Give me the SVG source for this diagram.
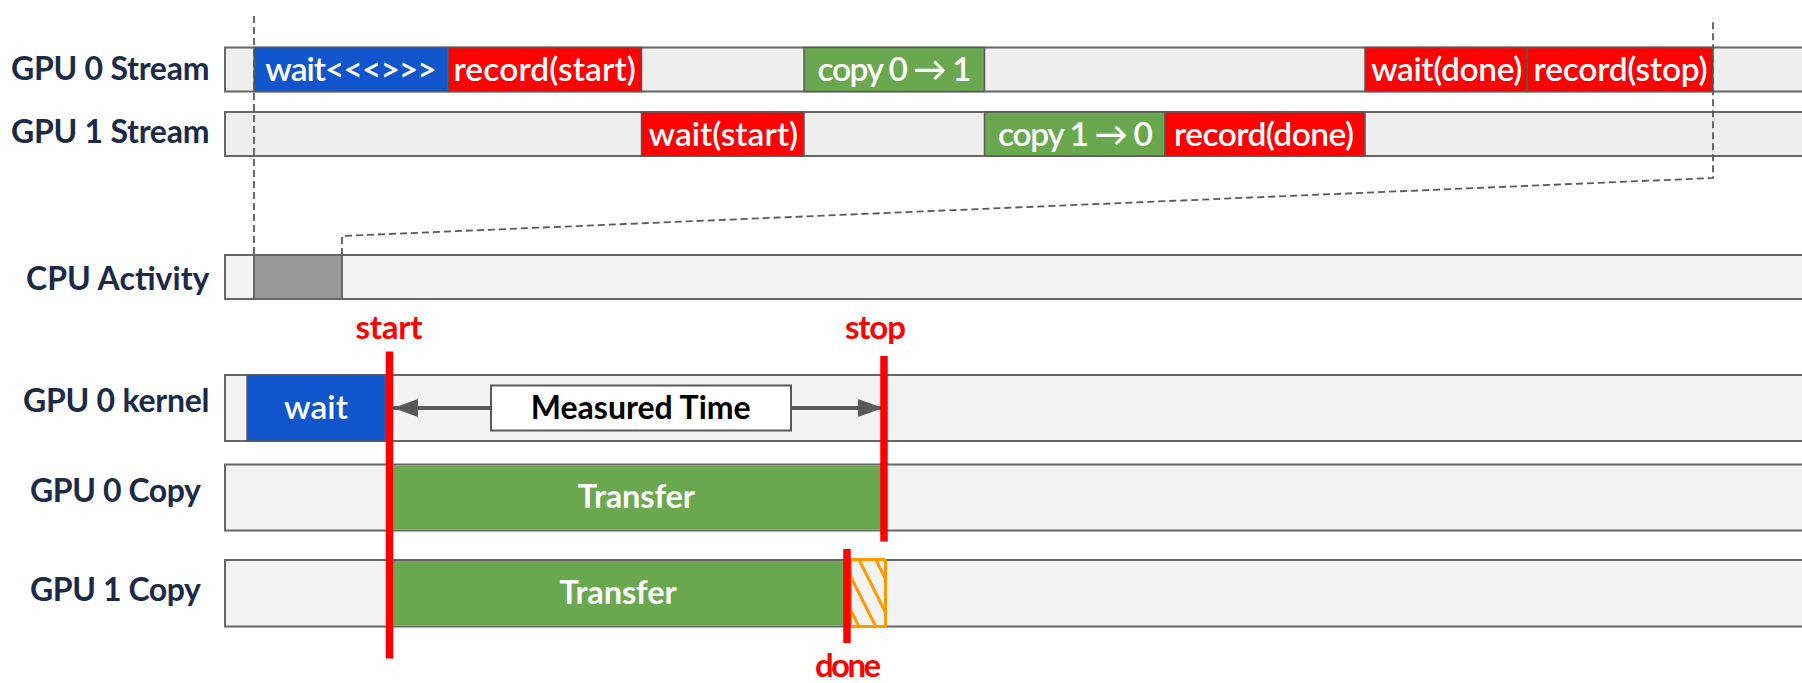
<svg xmlns="http://www.w3.org/2000/svg" width="1802" height="683" viewBox="0 0 1802 683">
  <style>
    .lane-a { fill: #eeeeee; stroke: #666666; stroke-width: 2; }
    .lane-b { fill: #f2f2f2; stroke: #666666; stroke-width: 2; }
    .blk { stroke: #595959; stroke-width: 1.5; }
    .blue { fill: #1155cc; }
    .red { fill: #ff0000; }
    .green { fill: #6aa84f; }
    .cpu { fill: #999999; stroke: #666666; stroke-width: 2; }
    .label { font-family: Lato, "Liberation Sans", sans-serif; font-weight: 700; font-size: 32px; fill: #1b2a48; text-anchor: end; }
    .btxt { font-family: Lato, "Liberation Sans", sans-serif; font-weight: 600; font-size: 33.5px; fill: #ffffff; text-anchor: middle; }
    .btxt-b { font-family: Lato, "Liberation Sans", sans-serif; font-weight: 700; font-size: 32.5px; fill: #ffffff; text-anchor: middle; }
    .mark { font-family: Lato, "Liberation Sans", sans-serif; font-weight: 700; font-size: 33px; fill: #ff0000; text-anchor: middle; }
    .marker-line { stroke: #ff0000; stroke-width: 7.5; }
    .dash { fill: none; stroke: #595959; stroke-width: 1.8; stroke-dasharray: 7 4; }
    .arrow { stroke: #595959; stroke-width: 4; marker-end: url(#head); }
  </style>
  <defs>
    <marker id="head" markerUnits="userSpaceOnUse" markerWidth="26" markerHeight="20" refX="25" refY="10" orient="auto">
      <path d="M0 1 L25 10 L0 19 Z" fill="#595959"/>
    </marker>
    <pattern id="hatch" patternUnits="userSpaceOnUse" width="15" height="15" patternTransform="rotate(-26.6)">
      <rect width="15" height="15" fill="#f2f2f2"/>
      <line x1="7.5" y1="0" x2="7.5" y2="15" stroke="#ff9900" stroke-width="3"/>
    </pattern>
  </defs>

  <!-- GPU 0 stream lane -->
  <g id="gpu0-stream">
    <rect class="lane-a" x="225" y="47.5" width="1590" height="44"/>
    <text class="label" x="209.5" y="79.5" textLength="198.5">GPU 0 Stream</text>
    <g id="gpu0-wait-kernel">
      <rect class="blk blue" x="254" y="47.5" width="194" height="44"/>
      <text class="btxt" x="351" y="80.7" textLength="171.5">wait&lt;&lt;&lt;&gt;&gt;&gt;</text>
    </g>
    <g id="gpu0-record-start">
      <rect class="blk red" x="448" y="47.5" width="193.5" height="44"/>
      <text class="btxt" x="544.7" y="80.7" textLength="182.5">record(start)</text>
    </g>
    <g id="gpu0-copy">
      <rect class="blk green" x="804" y="47.5" width="180.5" height="44"/>
      <text class="btxt" x="894.6" y="81" textLength="154">copy 0 → 1</text>
    </g>
    <g id="gpu0-wait-done">
      <rect class="blk red" x="1365" y="47.5" width="162" height="44"/>
      <text class="btxt" x="1446.7" y="81" textLength="151.5">wait(done)</text>
    </g>
    <g id="gpu0-record-stop">
      <rect class="blk red" x="1527" y="47.5" width="186" height="44"/>
      <text class="btxt" x="1620.6" y="81" textLength="174">record(stop)</text>
    </g>
  </g>

  <!-- GPU 1 stream lane -->
  <g id="gpu1-stream">
    <rect class="lane-a" x="225" y="112" width="1590" height="44"/>
    <text class="label" x="209.5" y="142.5" textLength="198.5">GPU 1 Stream</text>
    <g id="gpu1-wait-start">
      <rect class="blk red" x="641.5" y="112" width="162.5" height="44"/>
      <text class="btxt" x="723.3" y="146" textLength="149.5">wait(start)</text>
    </g>
    <g id="gpu1-copy">
      <rect class="blk green" x="984.5" y="112" width="180.5" height="44"/>
      <text class="btxt" x="1075.5" y="146" textLength="155">copy 1 → 0</text>
    </g>
    <g id="gpu1-record-done">
      <rect class="blk red" x="1165" y="112" width="200" height="44"/>
      <text class="btxt" x="1264" y="146" textLength="180">record(done)</text>
    </g>
  </g>

  <!-- CPU lane -->
  <g id="cpu-activity">
    <rect class="lane-b" x="225" y="255" width="1590" height="44"/>
    <text class="label" x="209.5" y="290" textLength="183.5">CPU Activity</text>
    <rect id="cpu-launch" class="cpu" x="254" y="255" width="88" height="44"/>
  </g>

  <!-- GPU 0 kernel lane -->
  <g id="gpu0-kernel">
    <rect class="lane-b" x="225" y="375" width="1590" height="66"/>
    <text class="label" x="209.5" y="411.7" textLength="186.5">GPU 0 kernel</text>
    <g id="kernel-wait">
      <rect class="blk blue" x="247" y="375" width="138.5" height="66"/>
      <text class="btxt" x="316" y="419.3">wait</text>
    </g>
  </g>

  <!-- GPU 0 copy engine lane -->
  <g id="gpu0-copy-engine">
    <rect class="lane-b" x="225" y="464.5" width="1590" height="66"/>
    <text class="label" x="201" y="501.7" textLength="171">GPU 0 Copy</text>
    <g id="gpu0-transfer">
      <rect class="green" x="389" y="465.5" width="495" height="64"/>
      <text class="btxt-b" x="636.3" y="507.7" textLength="117">Transfer</text>
    </g>
  </g>

  <!-- GPU 1 copy engine lane -->
  <g id="gpu1-copy-engine">
    <rect class="lane-b" x="225" y="560" width="1590" height="66.5"/>
    <text class="label" x="201" y="601" textLength="171">GPU 1 Copy</text>
    <g id="gpu1-transfer">
      <rect class="green" x="389" y="561" width="458" height="64.5"/>
      <text class="btxt-b" x="618" y="604" textLength="117">Transfer</text>
    </g>
    <rect id="gpu1-tail" x="850.5" y="559.5" width="35" height="67" rx="2" fill="url(#hatch)" stroke="#ff9900" stroke-width="3"/>
  </g>

  <!-- dashed zoom guides and the measured-time span -->
  <g id="connectors">
    <path class="dash" d="M254 16 V255"/>
    <path class="dash" d="M342 255 V236 L1713 178 V18"/>
    <line class="arrow" x1="491" y1="408" x2="393" y2="408"/>
    <line class="arrow" x1="791" y1="408" x2="883" y2="408"/>
  </g>

  <g id="measured-time">
    <rect x="491" y="385.5" width="300" height="45" fill="#ffffff" stroke="#595959" stroke-width="2"/>
    <text x="640.7" y="419.3" textLength="220" font-family="Lato, 'Liberation Sans', sans-serif" font-weight="700" font-size="32" fill="#000000" text-anchor="middle">Measured Time</text>
  </g>

  <!-- event markers -->
  <g id="event-start">
    <line class="marker-line" x1="389.5" y1="351.5" x2="389.5" y2="658.5"/>
    <text class="mark" x="389" y="339.3" textLength="67">start</text>
  </g>
  <g id="event-stop">
    <line class="marker-line" x1="884" y1="356" x2="884" y2="541.5"/>
    <text class="mark" x="875.4" y="339.3" textLength="61">stop</text>
  </g>
  <g id="event-done">
    <line class="marker-line" x1="847" y1="549" x2="847" y2="643"/>
    <text class="mark" x="848" y="677" font-size="32" textLength="66">done</text>
  </g>
</svg>
